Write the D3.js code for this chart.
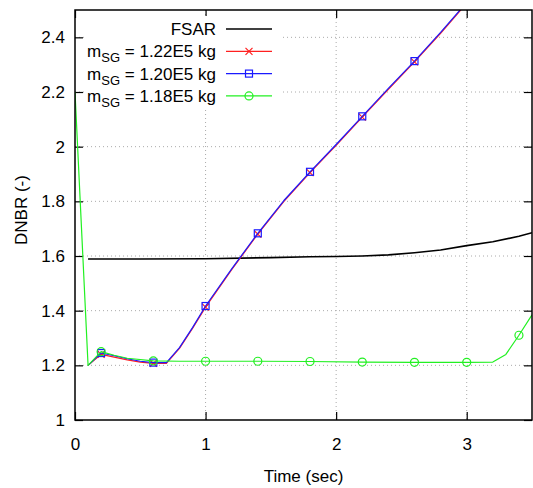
<!DOCTYPE html>
<meta charset="utf-8">
<html lang="en"></html>

<script src="https://d3js.org/d3.v7.min.js"></script>

<style>
    body { margin: 0; background: #fff; }
    text { font-family: "Liberation Sans", Arial, sans-serif; }
</style>

<div id="graph"></div>

<script>

    // data
    const xTicks = [0, 1, 2, 3];
    const yTicks = [1, 1.2, 1.4, 1.6, 1.8, 2, 2.2, 2.4];

    const fsarT = [0.1, 0.5, 1.0, 1.5, 1.8, 2.0, 2.2, 2.4, 2.6, 2.8, 3.0, 3.2, 3.4, 3.5];
    const fsarV = [1.589, 1.589, 1.590, 1.594, 1.597, 1.598, 1.600, 1.604, 1.612, 1.622, 1.638, 1.652, 1.672, 1.685];

    const m122T = [0.1, 0.2, 0.3, 0.4, 0.5, 0.6, 0.7, 0.8, 0.9, 1.0, 1.2, 1.4, 1.6, 1.8, 2.0, 2.2, 2.4, 2.6, 2.8, 3.0];
    const m122V = [1.20, 1.240, 1.230, 1.220, 1.212, 1.207, 1.207, 1.262, 1.335, 1.413, 1.550, 1.680, 1.800, 1.905, 2.005, 2.108, 2.210, 2.310, 2.415, 2.525];

    const m120T = [0.1, 0.2, 0.3, 0.4, 0.5, 0.6, 0.7, 0.8, 0.9, 1.0, 1.2, 1.4, 1.6, 1.8, 2.0, 2.2, 2.4, 2.6, 2.8, 3.0];
    const m120V = [1.20, 1.245, 1.235, 1.224, 1.215, 1.210, 1.210, 1.265, 1.338, 1.417, 1.553, 1.683, 1.803, 1.908, 2.008, 2.111, 2.213, 2.313, 2.418, 2.528];

    const m118T = [0, 0.1, 0.2, 0.3, 0.4, 0.6, 0.8, 1.0, 1.4, 1.8, 2.2, 2.6, 3.0, 3.2, 3.3, 3.4, 3.5];
    const m118V = [2.2, 1.20, 1.250, 1.237, 1.226, 1.216, 1.215, 1.215, 1.215, 1.214, 1.212, 1.211, 1.211, 1.212, 1.240, 1.310, 1.385];

    const markT = [0.2, 0.6, 1.0, 1.4, 1.8, 2.2, 2.6, 3.0, 3.4];

    const series = [
        {label: "FSAR", sub: "", rest: "", t: fsarT, v: fsarV, color: "#000000", width: 1.6, mark: null},
        {label: "m", sub: "SG", rest: " = 1.22E5 kg", t: m122T, v: m122V, color: "#ff2020", width: 1.2, mark: "x"},
        {label: "m", sub: "SG", rest: " = 1.20E5 kg", t: m120T, v: m120V, color: "#1a1aff", width: 1.2, mark: "square"},
        {label: "m", sub: "SG", rest: " = 1.18E5 kg", t: m118T, v: m118V, color: "#22f022", width: 1.2, mark: "circle"}
    ];

    // dimensions
    const W = 533, H = 488;
    const margin = {top: 10, right: 1, bottom: 68, left: 75};
    const width = W - margin.left - margin.right,
        height = H - margin.top - margin.bottom;

    const svg = d3.select("#graph")
        .append("svg")
            .attr("width", W)
            .attr("height", H);

    const g = svg.append("g")
        .attr("transform", "translate(" + margin.left + "," + margin.top + ")");

    const x = d3.scaleLinear().domain([0, 3.5]).range([0, width]);
    const y = d3.scaleLinear().domain([1, 2.5]).range([height, 0]);

    // grid
    g.append("g")
        .selectAll("line.gy")
        .data(yTicks.slice(1))
        .enter()
        .append("line")
            .attr("x1", 0).attr("x2", width)
            .attr("y1", d => y(d)).attr("y2", d => y(d))
            .attr("stroke", "#aaa")
            .attr("stroke-dasharray", "1,3");
    g.append("g")
        .selectAll("line.gx")
        .data(xTicks.slice(1))
        .enter()
        .append("line")
            .attr("x1", d => x(d)).attr("x2", d => x(d))
            .attr("y1", 0).attr("y2", height)
            .attr("stroke", "#aaa")
            .attr("stroke-dasharray", "1,3");

    // axes with inward ticks on all sides
    const tickLen = 8;
    const axB = g.append("g")
        .attr("transform", "translate(0," + height + ")")
        .call(d3.axisBottom(x).tickValues(xTicks).tickSizeInner(-tickLen).tickSizeOuter(0).tickPadding(18).tickFormat(d3.format("")));
    const axT = g.append("g")
        .call(d3.axisTop(x).tickValues(xTicks).tickSizeInner(-tickLen).tickSizeOuter(0).tickFormat(""));
    const axL = g.append("g")
        .call(d3.axisLeft(y).tickValues(yTicks).tickSizeInner(-tickLen).tickSizeOuter(0).tickPadding(10).tickFormat(d3.format("")));
    const axR = g.append("g")
        .attr("transform", "translate(" + width + ",0)")
        .call(d3.axisRight(y).tickValues(yTicks).tickSizeInner(-tickLen).tickSizeOuter(0).tickFormat(""));

    [axB, axT, axL, axR].forEach(a => {
        a.select(".domain").remove();
        a.selectAll("line").attr("stroke", "#000").attr("stroke-width", 1.2);
        a.selectAll("text")
            .attr("fill", "#000")
            .style("font-size", "17px")
            .style("font-family", "'Liberation Sans', Arial, sans-serif");
    });

    // legend background (opaque key)
    const legend = g.append("g");
    legend.append("rect")
        .attr("x", 9).attr("y", 6)
        .attr("width", 196).attr("height", 92)
        .attr("fill", "#fff");

    // clip for plotted lines
    svg.append("defs").append("clipPath")
        .attr("id", "clip")
        .append("rect")
            .attr("width", width).attr("height", height);

    const plot = g.append("g").attr("clip-path", "url(#clip)");

    const line = d3.line()
        .x(d => x(d[0]))
        .y(d => y(d[1]));

    function drawMark(sel, type, color, cx, cy) {
        if (type === "x") {
            const s = 3.5;
            sel.append("path")
                .attr("d", "M" + (cx - s) + "," + (cy - s) + "L" + (cx + s) + "," + (cy + s) +
                    "M" + (cx - s) + "," + (cy + s) + "L" + (cx + s) + "," + (cy - s))
                .attr("stroke", color).attr("stroke-width", 1.2).attr("fill", "none");
        } else if (type === "square") {
            sel.append("rect")
                .attr("x", cx - 3.5).attr("y", cy - 3.5)
                .attr("width", 7).attr("height", 7)
                .attr("stroke", color).attr("stroke-width", 1.2).attr("fill", "none");
        } else if (type === "circle") {
            sel.append("circle")
                .attr("cx", cx).attr("cy", cy).attr("r", 4)
                .attr("stroke", color).attr("stroke-width", 1.2).attr("fill", "none");
        }
    }

    series.forEach(s => {
        const pts = s.t.map((t, i) => [t, s.v[i]]);
        plot.append("path")
            .datum(pts)
            .attr("d", line)
            .attr("fill", "none")
            .attr("stroke", s.color)
            .attr("stroke-width", s.width)
            .attr("stroke-linejoin", "round");
        if (s.mark) {
            const interp = d3.scaleLinear().domain(s.t).range(s.v);
            markT.forEach(t => {
                if (t <= 3.5) drawMark(plot, s.mark, s.color, x(t), y(interp(t)));
            });
        }
    });

    // legend entries
    series.forEach((s, i) => {
        const cy = 19 + i * 22.3;
        const txt = legend.append("text")
            .attr("x", 141)
            .attr("y", cy + 6)
            .attr("text-anchor", "end")
            .style("font-size", "17px");
        txt.append("tspan").text(s.label);
        if (s.sub) {
            txt.append("tspan").text(s.sub).attr("dy", 5).style("font-size", "13px");
            txt.append("tspan").text(s.rest).attr("dy", -5);
        }
        legend.append("line")
            .attr("x1", 151).attr("x2", 197)
            .attr("y1", cy).attr("y2", cy)
            .attr("stroke", s.color)
            .attr("stroke-width", s.width);
        if (s.mark) drawMark(legend, s.mark, s.color, 174, cy);
    });

    // frame
    g.append("rect")
        .attr("width", width).attr("height", height)
        .attr("fill", "none")
        .attr("stroke", "#000")
        .attr("stroke-width", 1.5);

    // axis titles
    g.append("text")
        .text("Time (sec)")
        .attr("x", (x(0) + x(3.5)) / 2 - 0)
        .attr("y", height + 62)
        .attr("text-anchor", "middle")
        .style("font-size", "17px");

    g.append("text")
        .text("DNBR (-)")
        .attr("transform", "translate(" + (-48) + "," + (height / 2 - 5) + ")rotate(-90)")
        .attr("text-anchor", "middle")
        .style("font-size", "17px");

</script>
